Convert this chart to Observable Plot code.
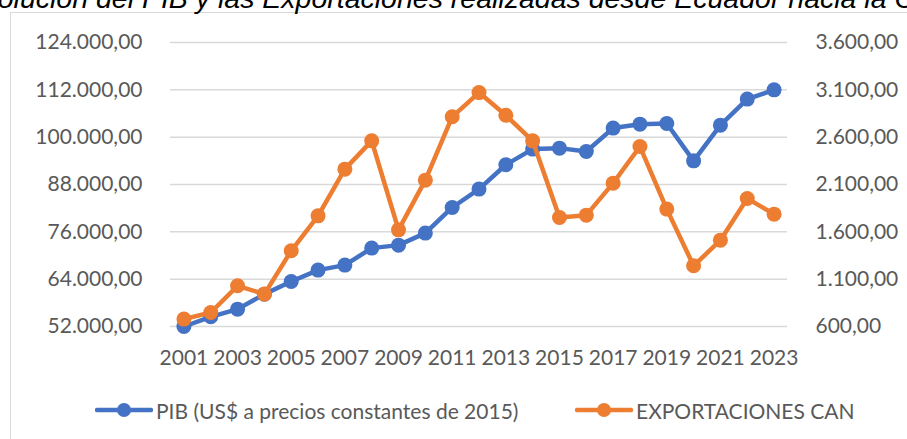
<!DOCTYPE html>
<html>
<head>
<meta charset="utf-8">
<script src="https://cdn.jsdelivr.net/npm/d3@7"></script>
<script src="https://cdn.jsdelivr.net/npm/@observablehq/plot@0.6"></script>
<style>
  html, body { margin: 0; padding: 0; background: #fff; }
  #wrap { position: relative; width: 907px; height: 439px; overflow: hidden; background: #fff; }
  #box { position: absolute; left: 10px; top: 12px; width: 1000px; height: 600px; border: 1px solid #D9D9D9; box-sizing: border-box; }
  #title { position: absolute; left: -35.5px; top: -16.2px; font-family: "Liberation Sans", Arial, sans-serif; font-style: italic; font-size: 28.5px; line-height: 28.5px; white-space: nowrap; color: #000; }
  #chart { position: absolute; left: 0; top: 0; }
  .leg { position: absolute; top: 398px; height: 24px; display: flex; align-items: center; font-family: Lato, sans-serif; font-size: 21px; color: #595959; white-space: nowrap; }
  .leg svg { margin-right: 3px; }
</style>
</head>
<body>
<div id="wrap">
  <div id="box"></div>
  <div id="title">Evolución del PIB y las Exportaciones realizadas desde Ecuador hacia la CAN</div>
  <div id="chart"></div>
  <div class="leg" id="leg1" style="left:95px"></div>
  <div class="leg" id="leg2" style="left:575px"></div>
</div>
<script>
const years = [2001,2002,2003,2004,2005,2006,2007,2008,2009,2010,2011,2012,2013,2014,2015,2016,2017,2018,2019,2020,2021,2022,2023];
const pib = [52000,54460,56400,60200,63400,66300,67560,71870,72630,75680,82170,86830,93000,96970,97220,96370,102300,103300,103460,94000,103050,109650,112000];
const exportaciones = [678,748,1030,942,1400,1769,2262,2561,1621,2146,2815,3071,2832,2561,1751,1776,2114,2501,1840,1241,1512,1952,1787];
const xTicks = [2001,2003,2005,2007,2009,2011,2013,2015,2017,2019,2021,2023];
const leftTicks = [52000,64000,76000,88000,100000,112000,124000];
const rightTicks = [600,1100,1600,2100,2600,3100,3600];
const seriesNames = ["PIB (US$ a precios constantes de 2015)", "EXPORTACIONES CAN"];
const colors = ["#4472C4", "#ED7D31"];

const locale = d3.formatLocale({decimal: ",", thousands: ".", grouping: [3], currency: ["", ""]});
const fmt = locale.format(",.2f");

// map right-axis values onto left-axis scale (linear correspondence of the two axes)
const rMin = rightTicks[0], rMax = rightTicks[rightTicks.length - 1];
const lMin = leftTicks[0], lMax = leftTicks[leftTicks.length - 1];
const toLeft = v => lMin + (v - rMin) * (lMax - lMin) / (rMax - rMin);
const toRight = v => rMin + (v - lMin) * (rMax - rMin) / (lMax - lMin);

const pibData = years.map((y, i) => ({year: y, value: pib[i]}));
const expData = years.map((y, i) => ({year: y, value: toLeft(exportaciones[i])}));

const chart = Plot.plot({
  width: 907,
  height: 439,
  marginLeft: 170,
  marginRight: 120,
  marginTop: 42,
  marginBottom: 113,
  style: {fontFamily: "Lato, sans-serif", fontSize: "21px", color: "#595959", background: "transparent", overflow: "visible"},
  x: {domain: [2000.5, 2023.5]},
  y: {domain: [lMin, lMax]},
  marks: [
    Plot.gridY(leftTicks, {stroke: "#D9D9D9", strokeOpacity: 1, strokeWidth: 1.5}),
    Plot.axisX({ticks: xTicks, tickFormat: d => String(d), tickSize: 0, tickPadding: 24, label: null}),
    Plot.axisY({anchor: "left", ticks: leftTicks, tickFormat: fmt, tickSize: 0, tickPadding: 28, label: null}),
    Plot.axisY({anchor: "right", ticks: leftTicks, tickFormat: d => fmt(toRight(d)), tickSize: 0, tickPadding: 28, label: null}),
    Plot.line(pibData, {x: "year", y: "value", stroke: colors[0], strokeWidth: 4.5, strokeLinejoin: "round", strokeLinecap: "round"}),
    Plot.dot(pibData, {x: "year", y: "value", r: 7.5, fill: colors[0], stroke: "none"}),
    Plot.line(expData, {x: "year", y: "value", stroke: colors[1], strokeWidth: 4.5, strokeLinejoin: "round", strokeLinecap: "round"}),
    Plot.dot(expData, {x: "year", y: "value", r: 7.5, fill: colors[1], stroke: "none"})
  ]
});
document.getElementById("chart").appendChild(chart);

function swatch(color) {
  return `<svg width="58" height="16" viewBox="0 0 58 16"><line x1="2" y1="8" x2="56" y2="8" stroke="${color}" stroke-width="4.5" stroke-linecap="round"/><circle cx="29" cy="8" r="7" fill="${color}"/></svg>`;
}
document.getElementById("leg1").innerHTML = swatch(colors[0]) + `<span>${seriesNames[0]}</span>`;
document.getElementById("leg2").innerHTML = swatch(colors[1]) + `<span>${seriesNames[1]}</span>`;
</script>
</body>
</html>
